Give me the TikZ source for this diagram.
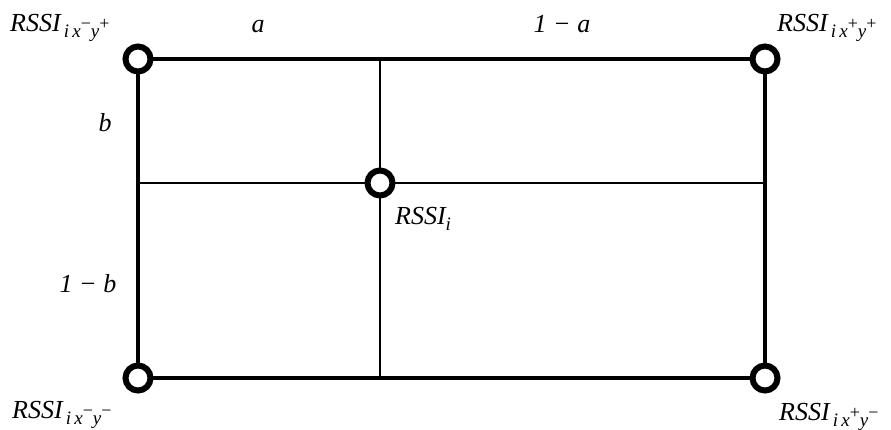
\documentclass[tikz,border=0pt]{standalone}
\usepackage{fontspec}
\setmainfont{Liberation Serif}
\usetikzlibrary{positioning,calc}

\newcommand{\subtxt}[1]{\raisebox{-6pt}{\fontsize{19}{20}\selectfont #1}}
\newcommand{\suptxt}[1]{\raisebox{8pt}{\fontsize{18}{19}\selectfont\upshape #1}}
\newcommand{\rssilbl}[2]{\textit{RSSI}\subtxt{\,i\,x\suptxt{#1}y\suptxt{#2}}}

\begin{document}
\begin{tikzpicture}[x=1pt,y=-1pt,font=\fontsize{26}{30}\selectfont\itshape,
  frame/.style={line width=4.3pt,line cap=rect},
  grid/.style={line width=2.2pt},
  ring/.style={circle,draw,line width=6pt,fill=white,minimum size=25pt,inner sep=0pt},
  lbl/.style={anchor=base west,inner sep=0pt},
  val/.style={anchor=base,inner sep=0pt}]
\useasboundingbox (0,0) rectangle (891,430);
\coordinate (TL) at (138,59);
\coordinate (TR) at (765,59);
\coordinate (BL) at (138,378);
\coordinate (BR) at (765,378);
\coordinate (C) at (380,183);
% inner cross through RSSI_i
\draw[grid] (C |- TL) -- (C |- BL);
\draw[grid] (C -| TL) -- (C -| TR);
% outer frame
\draw[frame] (TL) -- (TR) -- (BR) -- (BL) -- cycle;
\node[ring] (nTL) at (TL) {};
\node[ring] (nTR) at (TR) {};
\node[ring] (nBL) at (BL) {};
\node[ring] (nBR) at (BR) {};
\node[ring] (nC) at (C) {};
% labels
\node[lbl] (lTL) at (10,32) {\rssilbl{−}{+}};
\node[lbl] (lTR) at (777,32) {\rssilbl{+}{+}};
\node[lbl] (lBL) at (12,418) {\rssilbl{−}{−}};
\node[lbl] (lBR) at (779,420) {\rssilbl{+}{−}};
\node[lbl] (lC) at (395,225) {\textit{RSSI}\subtxt{i}};
\node[val] (va) at (258,33) {a};
\node[val] (v1a) at (562,33) {1 − a};
\node[val] (vb) at (105,132) {b};
\node[val] (v1b) at (88,292) {1 − b};
\end{tikzpicture}
\end{document}
